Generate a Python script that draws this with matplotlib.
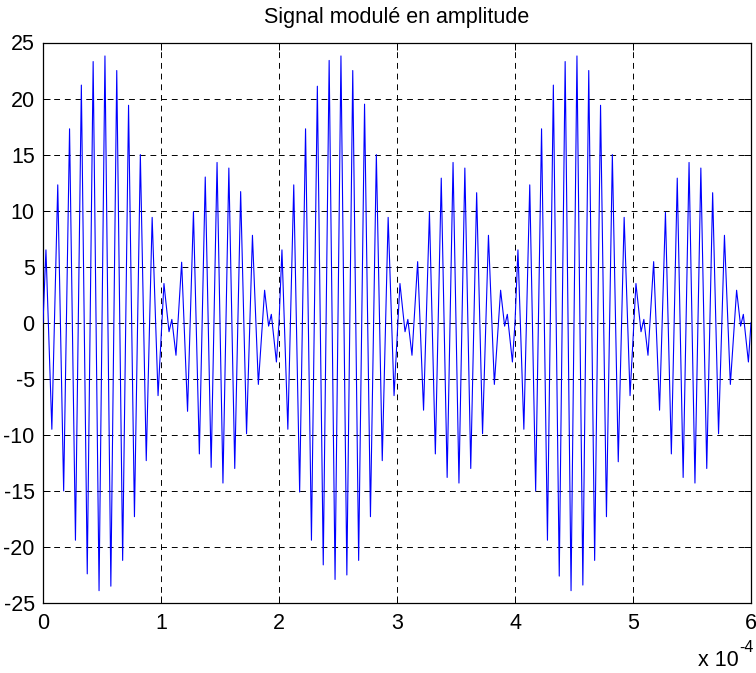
import numpy as np
import matplotlib
matplotlib.use("Agg")
import matplotlib.pyplot as plt

plt.rcParams['font.family'] = ['Liberation Sans', 'DejaVu Sans']

# ---- data (time in units of 1e-4 s) ----
title = "Signal modulé en amplitude"
x_ticks = [0, 1, 2, 3, 4, 5, 6]
y_ticks = [-25, -20, -15, -10, -5, 0, 5, 10, 15, 20, 25]

# times of the vertices inside one modulation period (relative to period start)
t_period = [0.0,
            0.025, 0.075, 0.125, 0.175, 0.225, 0.275, 0.325, 0.375, 0.425, 0.475,
            0.525, 0.575, 0.625, 0.675, 0.725, 0.775, 0.825, 0.875, 0.925, 0.975,
            1.025, 1.068, 1.092, 1.127,
            1.175, 1.225, 1.275, 1.325, 1.375, 1.425, 1.475, 1.525, 1.575, 1.625,
            1.675, 1.725, 1.775, 1.825,
            1.878, 1.912, 1.935, 1.978]
period_starts = [0.0, 2.0, 4.0]

values_period1 = [0.0,
                  6.5, -9.5, 12.3, -15.0, 17.3, -19.4, 21.2, -22.4, 23.3, -23.9,
                  23.8, -23.5, 22.5, -21.2, 19.4, -17.3, 15.0, -12.3, 9.4, -6.5,
                  3.5, -0.8, 0.3, -2.9,
                  5.4, -7.9, 9.9, -11.7, 13.0, -12.9, 14.3, -14.3, 13.8, -13.0,
                  11.7, -9.9, 7.8, -5.5,
                  2.9, -0.3, 0.75, -3.5]
values_period2 = [0.0,
                  6.5, -9.5, 12.3, -15.1, 17.3, -19.4, 21.1, -21.6, 23.4, -22.9,
                  23.8, -22.5, 22.5, -21.2, 19.5, -17.3, 15.0, -12.3, 9.4, -6.5,
                  3.5, -0.8, 0.3, -2.9,
                  5.45, -7.8, 9.85, -11.7, 12.9, -13.8, 14.3, -14.3, 13.8, -13.0,
                  11.6, -9.9, 7.8, -5.5,
                  2.9, -0.3, 0.75, -3.5]
values_period3 = [0.0,
                  6.5, -9.5, 12.3, -15.0, 17.3, -19.4, 21.2, -22.6, 23.3, -23.9,
                  23.8, -23.4, 22.5, -21.2, 19.4, -17.3, 15.0, -12.4, 9.4, -6.5,
                  3.5, -0.8, 0.3, -2.9,
                  5.45, -7.8, 9.85, -11.7, 12.9, -13.8, 14.3, -14.3, 13.8, -13.0,
                  11.6, -9.9, 7.8, -5.5,
                  2.9, -0.3, 0.75, -3.5]
t_end, v_end = 6.0, 0.0

# ---- assemble the polyline from the read vertices ----
t_all, v_all = [], []
for start, vals in zip(period_starts, [values_period1, values_period2, values_period3]):
    t_all += [start + tt for tt in t_period]
    v_all += vals
t_all.append(t_end)
v_all.append(v_end)

W, H = 756, 673
fig = plt.figure(figsize=(W / 100, H / 100), dpi=100)
ax = fig.add_axes([43 / W, 1 - 603 / H, (751 - 43) / W, (603 - 42.5) / H])

fs = 15.5
ax.plot(t_all, v_all, color=(0, 0, 1), lw=0.8, zorder=3)

ax.set_xlim(0, 6)
ax.set_ylim(-25, 25)
ax.set_xticks(x_ticks)
ax.set_yticks(y_ticks)
ax.set_xticklabels([str(v) for v in x_ticks], fontsize=fs)
ax.set_yticklabels([str(v) for v in y_ticks], fontsize=fs)
ax.tick_params(direction='in', length=5, width=0.7, top=True, right=True,
               colors='black')
ax.tick_params(axis='x', pad=7)
ax.tick_params(axis='y', pad=6)

for v in x_ticks[1:-1]:
    ax.axvline(v, color='black', lw=0.7, dashes=(6, 5), zorder=1)
for v in y_ticks[1:-1]:
    ax.axhline(v, color='black', lw=0.7, dashes=(6, 5), zorder=1)

for s in ax.spines.values():
    s.set_linewidth(0.9)
    s.set_color('black')

fig.text(397 / W, 1 - 18 / H, title, ha='center', va='center', fontsize=fs)
fig.text(698 / W, 1 - 661 / H, "x 10", ha='left', va='center', fontsize=fs)
fig.text(739 / W, 1 - 648 / H, "-4", ha='left', va='center', fontsize=11.5)

fig.savefig("out.png", dpi=100)
